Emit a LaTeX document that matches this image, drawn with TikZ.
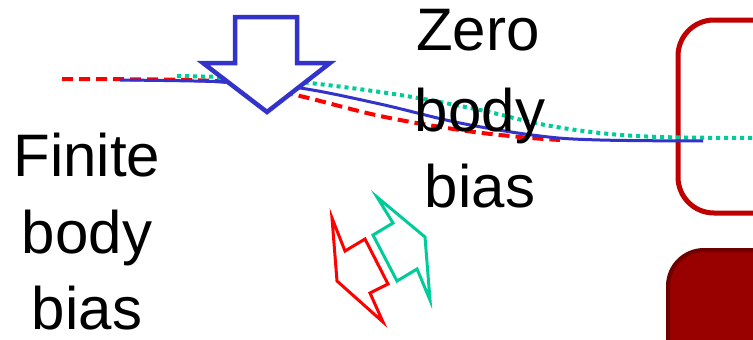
\documentclass[tikz,border=0pt]{standalone}
\usepackage{fontspec}
\setmainfont{Liberation Sans}
\begin{document}
\begin{tikzpicture}[x=1pt,y=-1pt,
  bigtxt/.style={anchor=base,inner sep=0pt,font=\fontsize{60}{72}\selectfont},
  redline/.style={draw=red,line width=4pt,dash pattern=on 11pt off 6pt},
  greenline/.style={draw=tealgreen,line width=4pt,dash pattern=on 4pt off 4pt},
  blueline/.style={draw=arrowblue,line width=3pt},
  blockarrow/.style={draw=arrowblue,line width=4.5pt,fill=white,line join=miter},
  smallarrow/.style={line width=3pt,fill=white,line join=miter}]
\definecolor{arrowblue}{RGB}{51,51,204}
\definecolor{tealgreen}{RGB}{0,204,153}
\definecolor{boxred}{RGB}{192,0,0}
\definecolor{darkfill}{RGB}{153,0,0}
\definecolor{darkedge}{RGB}{110,0,0}
\clip (0,0) rectangle (753,340);
\fill[white] (0,0) rectangle (753,340);
% boxes
\draw[boxred,line width=5pt,rounded corners=36pt] (678,20) rectangle (820,213);
\draw[darkedge,fill=darkfill,line width=4pt,rounded corners=36pt] (668,250) rectangle (820,420);
% curves
\draw[redline] plot[smooth,tension=0.6] coordinates {(62,79) (190,80) (240,84) (300,96) (380,116) (460,130) (520,137) (560,140)};
\draw[greenline] plot[smooth,tension=0.6] coordinates {(177,76) (250,78) (310,83) (400,95) (480,110) (540,124) (600,133) (660,137) (753,138)};
\draw[blueline] plot[smooth,tension=0.6] coordinates {(120,80) (230,82) (300,88) (380,104) (460,123) (540,136) (600,140) (703,141)};
% block arrow
\draw[blockarrow] (235,17) -- (297,17) -- (297,63) -- (330,63) -- (267,112) -- (203,63) -- (235,63) -- cycle;
% small arrows
\draw[smallarrow,draw=red] (332,218) -- (345,251) -- (365,239) -- (388,284) -- (370,293) -- (383,322) -- (337,281) -- cycle;
\draw[smallarrow,draw=tealgreen] (377,197) -- (425,237) -- (430,300) -- (417,269) -- (397,281) -- (373,235) -- (393,223) -- cycle;
% texts
\node[bigtxt] (z1) at (478,50) {Zero};
\node[bigtxt] (z2) at (480,131) {body};
\node[bigtxt] (z3) at (480,207) {bias};
\node[bigtxt] (f1) at (87,176) {Finite};
\node[bigtxt] (f2) at (87,253) {body};
\node[bigtxt] (f3) at (87,329) {bias};
\end{tikzpicture}
\end{document}
